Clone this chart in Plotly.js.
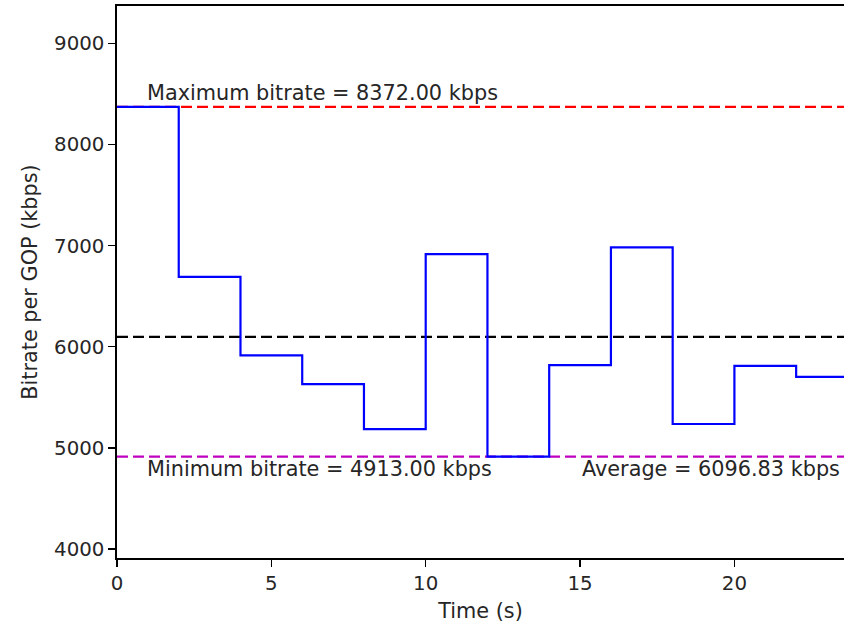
<!DOCTYPE html>
<html>
<head>
<meta charset="utf-8">
<script src="https://cdn.plot.ly/plotly-3.0.1.min.js"></script>
<style>html,body{margin:0;padding:0;background:#fff;}#chart{width:844px;height:628px;}</style>
</head>
<body>
<div id="chart"></div>
<script>
// GOP start times (s) and bitrate per GOP (kbps)
const gopTimes = [0, 2, 4, 6, 8, 10, 12, 14, 16, 18, 20, 22];
const gopBitrates = [8372, 6690, 5915, 5630, 5185, 6915, 4913, 5818, 6983, 5236, 5810, 5702];
const endTime = 23.55;
const maxBitrate = 8372.00;
const minBitrate = 4913.00;
const avgBitrate = 6096.83;
const xTicks = [0, 5, 10, 15, 20];
const yTicks = [4000, 5000, 6000, 7000, 8000, 9000];

const stepX = gopTimes.concat([endTime]);
const stepY = gopBitrates.concat([gopBitrates[gopBitrates.length - 1]]);

const font = {family: 'DejaVu Sans', size: 20.8, color: '#262626'};
const tickFont = {family: 'DejaVu Sans', size: 19.8, color: '#262626'};
const dash = '11px,5px';

const traces = [
  {x: [0, endTime], y: [maxBitrate, maxBitrate], mode: 'lines', line: {color: '#ff0000', width: 2.2, dash: dash}, hoverinfo: 'skip'},
  {x: [0, endTime], y: [avgBitrate, avgBitrate], mode: 'lines', line: {color: '#000000', width: 2.2, dash: dash}, hoverinfo: 'skip'},
  {x: [0, endTime], y: [minBitrate, minBitrate], mode: 'lines', line: {color: '#bf00bf', width: 2.2, dash: dash}, hoverinfo: 'skip'},
  {x: stepX, y: stepY, mode: 'lines', line: {color: '#0000ff', width: 2.2, shape: 'hv'}}
];

const layout = {
  width: 844, height: 628,
  margin: {l: 117, r: 0, t: 6, b: 70},
  paper_bgcolor: '#ffffff', plot_bgcolor: '#ffffff',
  showlegend: false,
  font: font,
  xaxis: {
    range: [0, endTime], tickvals: xTicks, ticktext: xTicks.map(String),
    showgrid: false, zeroline: false, showline: true, linecolor: '#000', linewidth: 1.6, mirror: true,
    ticks: 'outside', ticklen: 7, tickwidth: 1.4, tickcolor: '#000',
    tickfont: tickFont,
    title: {text: 'Time (s)', font: font, standoff: 9}
  },
  yaxis: {
    range: [3911, 9369], tickvals: yTicks, ticktext: yTicks.map(String),
    showgrid: false, zeroline: false, showline: true, linecolor: '#000', linewidth: 1.6, mirror: false,
    ticks: 'outside', ticklen: 7, tickwidth: 1.4, tickcolor: '#000',
    tickfont: tickFont,
    title: {text: 'Bitrate per GOP (kbps)', font: font, standoff: 11}
  },
  annotations: [
    {x: 1, y: maxBitrate, xref: 'x', yref: 'y', text: 'Maximum bitrate = ' + maxBitrate.toFixed(2) + ' kbps',
     showarrow: false, xanchor: 'left', yanchor: 'bottom', yshift: 0, xshift: -3, font: font},
    {x: 1, y: minBitrate, xref: 'x', yref: 'y', text: 'Minimum bitrate = ' + minBitrate.toFixed(2) + ' kbps',
     showarrow: false, xanchor: 'left', yanchor: 'top', yshift: 2, xshift: -3, font: font},
    {x: 23.38, y: minBitrate, xref: 'x', yref: 'y', text: 'Average = ' + avgBitrate.toFixed(2) + ' kbps',
     showarrow: false, xanchor: 'right', yanchor: 'top', yshift: 2, xshift: 3, font: font}
  ]
};

Plotly.newPlot('chart', traces, layout, {staticPlot: true, displayModeBar: false});
</script>
</body>
</html>
